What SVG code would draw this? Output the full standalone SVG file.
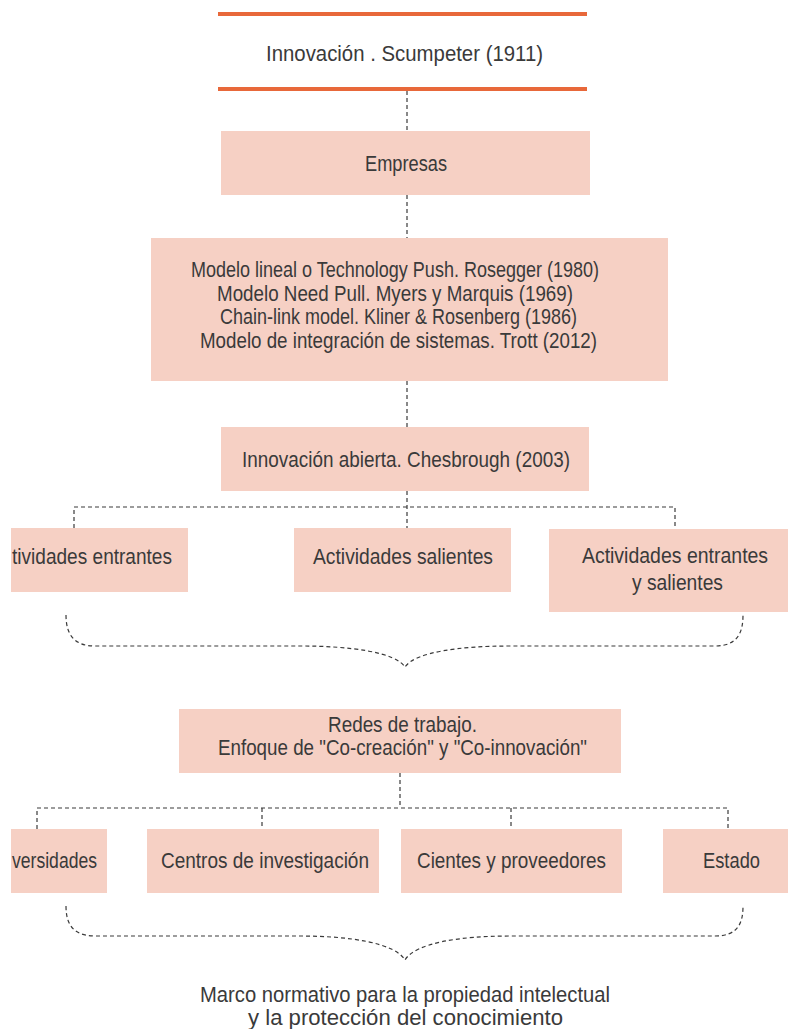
<svg xmlns="http://www.w3.org/2000/svg" width="788" height="1029" viewBox="0 0 788 1029">
<style>
.box{fill:#F6D0C4}
.t{font-family:"Liberation Sans",Arial,sans-serif;font-size:22px;fill:#3a3a3a;text-anchor:middle}
.s{text-anchor:start}
.c{fill:none;stroke:#3a3a3a;stroke-width:1.2;stroke-dasharray:4 3}
.o{stroke:#E8683A;stroke-width:4}
</style>
<g id="connectors">
<path class="c" d="M407 91V131M407 195V238M407 381V427M407 491V528M74 528V507H675V529"/>
<path class="c" d="M400 773V808M37 829V808H728V829M262 808V828M511 808V828"/>
<path class="c" d="M66 615C66 632 72 646 95 646H300C350 646 395 652 405 667C415 652 460 646 510 646H715C738 646 743 632 743 615"/>
<path class="c" d="M66 906C66 923 72 936 95 936H300C350 936 395 943 405 960C415 943 460 936 510 936H715C738 936 743 923 743 906"/>
</g>
<g id="n0">
<line class="o" x1="218" y1="14" x2="587" y2="14"/>
<line class="o" x1="218" y1="89" x2="587" y2="89"/>
<text class="t" x="404.5" y="61" textLength="277" lengthAdjust="spacingAndGlyphs">Innovación . Scumpeter (1911)</text>
</g>
<g id="n1">
<rect class="box" x="221" y="131" width="369" height="64"/>
<text class="t" x="406" y="171" textLength="82" lengthAdjust="spacingAndGlyphs">Empresas</text>
</g>
<g id="n2">
<rect class="box" x="151" y="238" width="517" height="143"/>
<text class="t" x="395" y="277" textLength="408" lengthAdjust="spacingAndGlyphs">Modelo lineal o Technology Push. Rosegger (1980)</text>
<text class="t" x="395" y="300.5" textLength="356" lengthAdjust="spacingAndGlyphs">Modelo Need Pull. Myers y Marquis (1969)</text>
<text class="t" x="398.5" y="324" textLength="357" lengthAdjust="spacingAndGlyphs">Chain-link model. Kliner &amp; Rosenberg (1986)</text>
<text class="t" x="398.5" y="347.5" textLength="397" lengthAdjust="spacingAndGlyphs">Modelo de integración de sistemas. Trott (2012)</text>
</g>
<g id="n3">
<rect class="box" x="221" y="427" width="368" height="64"/>
<text class="t" x="406" y="467" textLength="328" lengthAdjust="spacingAndGlyphs">Innovación abierta. Chesbrough (2003)</text>
</g>
<g id="n4">
<rect class="box" x="11" y="528" width="177" height="64"/>
<text class="t s" x="12" y="564" textLength="160" lengthAdjust="spacingAndGlyphs">tividades entrantes</text>
</g>
<g id="n5">
<rect class="box" x="294" y="528" width="217" height="64"/>
<text class="t" x="403" y="564" textLength="180" lengthAdjust="spacingAndGlyphs">Actividades salientes</text>
</g>
<g id="n6">
<rect class="box" x="549" y="529" width="239" height="83"/>
<text class="t" x="0" y="0" transform="translate(675 563) scale(0.886 1)">Actividades entrantes</text>
<text class="t" x="677.5" y="590" textLength="91" lengthAdjust="spacingAndGlyphs">y salientes</text>
</g>
<g id="n7">
<rect class="box" x="179" y="709" width="442" height="64"/>
<text class="t" x="402.5" y="732" textLength="149" lengthAdjust="spacingAndGlyphs">Redes de trabajo.</text>
<text class="t" x="402.5" y="755" textLength="369" lengthAdjust="spacingAndGlyphs">Enfoque de "Co-creación" y "Co-innovación"</text>
</g>
<g id="n8">
<rect class="box" x="11" y="829" width="96" height="64"/>
<text class="t s" x="12" y="868" textLength="85" lengthAdjust="spacingAndGlyphs">versidades</text>
</g>
<g id="n9">
<rect class="box" x="147" y="829" width="232" height="64"/>
<text class="t" x="265" y="868" textLength="208" lengthAdjust="spacingAndGlyphs">Centros de investigación</text>
</g>
<g id="n10">
<rect class="box" x="401" y="829" width="221" height="64"/>
<text class="t" x="511.5" y="868" textLength="189" lengthAdjust="spacingAndGlyphs">Cientes y proveedores</text>
</g>
<g id="n11">
<rect class="box" x="663" y="829" width="125" height="64"/>
<text class="t" x="731.5" y="868" textLength="57" lengthAdjust="spacingAndGlyphs">Estado</text>
</g>
<g id="n12">
<text class="t" x="405" y="1002" textLength="410" lengthAdjust="spacingAndGlyphs">Marco normativo para la propiedad intelectual</text>
<text class="t" x="405.5" y="1025" textLength="315" lengthAdjust="spacingAndGlyphs">y la protección del conocimiento</text>
</g>
</svg>
